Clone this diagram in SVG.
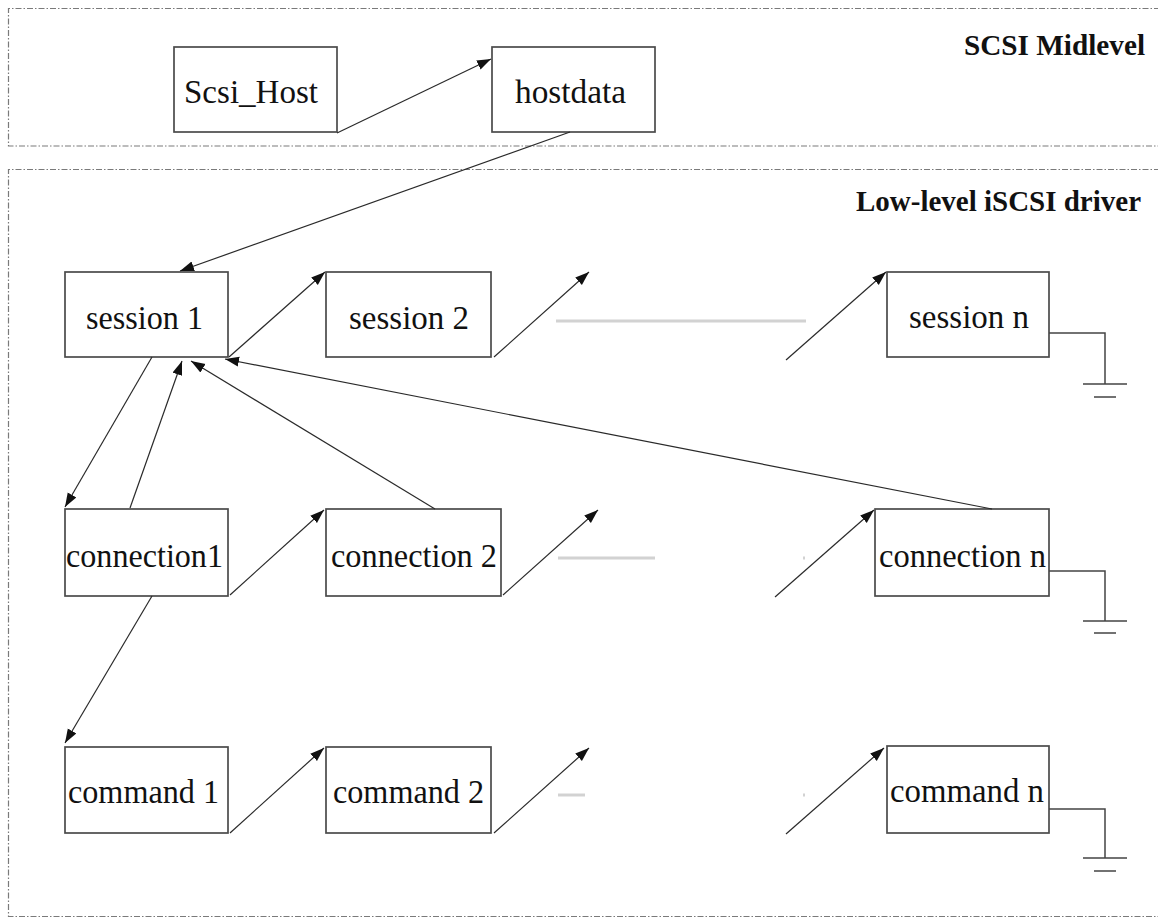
<svg xmlns="http://www.w3.org/2000/svg" width="1158" height="918" viewBox="0 0 1158 918">
  <style>
    .layer { fill: none; stroke: #7a7a7a; stroke-width: 1.2; stroke-dasharray: 6 2 1.5 2; }
    .box { fill: #ffffff; stroke: #4a4a4a; stroke-width: 1.7; }
    .label { font-family: "Liberation Serif", "Times New Roman", serif; font-size: 34px; fill: #111111; }
    .title { font-family: "Liberation Serif", "Times New Roman", serif; font-size: 29.5px; font-weight: bold; fill: #111111; }
    .arrow { fill: none; stroke: #2a2a2a; stroke-width: 1.2; marker-end: url(#head); }
    .gnd { fill: none; stroke: #444444; stroke-width: 1.5; }
    .gap { fill: none; stroke: #d2d2d2; stroke-width: 3; }
  </style>
  <defs>
    <marker id="head" markerUnits="userSpaceOnUse" markerWidth="15" markerHeight="11" refX="14" refY="5" orient="auto">
      <path d="M0,0 L14,5 L0,10 z" fill="#111111"/>
    </marker>
  </defs>

  <rect width="1158" height="918" fill="#ffffff"/>

  <!-- layer frames -->
  <g id="layers">
    <path class="layer" d="M1160,8.5 H8.5 V146 H1160"/>
    <path class="layer" d="M1160,169.5 H8.5 V916.5 H1160"/>
    <text class="title" x="964" y="55" textLength="181" lengthAdjust="spacingAndGlyphs">SCSI Midlevel</text>
    <text class="title" x="856" y="211" textLength="285" lengthAdjust="spacingAndGlyphs">Low-level iSCSI driver</text>
  </g>

  <!-- nodes -->
  <g id="scsi_host"><rect class="box" x="174" y="47" width="163" height="85"/><text class="label" x="184" y="103" textLength="134" lengthAdjust="spacingAndGlyphs">Scsi_Host</text></g>
  <g id="hostdata"><rect class="box" x="492" y="47" width="163" height="85"/><text class="label" x="515" y="103" textLength="111" lengthAdjust="spacingAndGlyphs">hostdata</text></g>

  <g id="session1"><rect class="box" x="65" y="272" width="163" height="85"/><text class="label" x="86" y="329" textLength="117" lengthAdjust="spacingAndGlyphs">session 1</text></g>
  <g id="session2"><rect class="box" x="326" y="272" width="165" height="85"/><text class="label" x="349" y="329" textLength="120" lengthAdjust="spacingAndGlyphs">session 2</text></g>
  <g id="sessionN"><rect class="box" x="887" y="272" width="162" height="85"/><text class="label" x="909" y="328" textLength="120" lengthAdjust="spacingAndGlyphs">session n</text></g>

  <g id="connection1"><rect class="box" x="65" y="509" width="163" height="87"/><text class="label" x="66" y="567" textLength="157" lengthAdjust="spacingAndGlyphs">connection1</text></g>
  <g id="connection2"><rect class="box" x="326" y="509" width="175" height="87"/><text class="label" x="331" y="567" textLength="166" lengthAdjust="spacingAndGlyphs">connection 2</text></g>
  <g id="connectionN"><rect class="box" x="875" y="509" width="174" height="87"/><text class="label" x="879" y="567" textLength="167" lengthAdjust="spacingAndGlyphs">connection n</text></g>

  <g id="command1"><rect class="box" x="65" y="747" width="163" height="86"/><text class="label" x="68" y="803" textLength="151" lengthAdjust="spacingAndGlyphs">command 1</text></g>
  <g id="command2"><rect class="box" x="326" y="747" width="165" height="86"/><text class="label" x="333" y="803" textLength="151" lengthAdjust="spacingAndGlyphs">command 2</text></g>
  <g id="commandN"><rect class="box" x="887" y="746" width="162" height="87"/><text class="label" x="890" y="802" textLength="154" lengthAdjust="spacingAndGlyphs">command n</text></g>

  <!-- connectors -->
  <g id="connectors">
    <line class="arrow" x1="337" y1="133" x2="491" y2="59"/>
    <line class="arrow" x1="570" y1="132" x2="180" y2="271"/>

    <line class="arrow" x1="229" y1="357" x2="325" y2="272"/>
    <line class="arrow" x1="494" y1="357" x2="589" y2="272"/>
    <line class="arrow" x1="786" y1="360" x2="886" y2="272"/>

    <line class="arrow" x1="152" y1="357" x2="65" y2="507"/>
    <line class="arrow" x1="130" y1="508" x2="182" y2="361"/>
    <line class="arrow" x1="435" y1="509" x2="191" y2="361"/>
    <line class="arrow" x1="992" y1="509" x2="225" y2="359"/>

    <line class="arrow" x1="230" y1="595" x2="324" y2="510"/>
    <line class="arrow" x1="503" y1="595" x2="598" y2="510"/>
    <line class="arrow" x1="775" y1="597" x2="874" y2="510"/>

    <line class="arrow" x1="152" y1="596" x2="65" y2="743"/>

    <line class="arrow" x1="230" y1="833" x2="324" y2="748"/>
    <line class="arrow" x1="494" y1="833" x2="589" y2="748"/>
    <line class="arrow" x1="786" y1="834" x2="884" y2="748"/>

    <!-- elided chain segments -->
    <line class="gap" x1="556" y1="321" x2="806" y2="321"/>
    <line class="gap" x1="558" y1="558" x2="655" y2="558"/>
    <line class="gap" x1="803" y1="558" x2="805" y2="558"/>
    <line class="gap" x1="558" y1="795" x2="585" y2="795"/>
    <line class="gap" x1="803" y1="795" x2="805" y2="795"/>

    <!-- list terminators -->
    <path class="gnd" d="M1049,333 H1105 V384 M1083,384 H1127 M1094,397 H1116"/>
    <path class="gnd" d="M1049,571 H1105 V621 M1083,621 H1127 M1094,633 H1116"/>
    <path class="gnd" d="M1049,809 H1105 V858 M1083,858 H1127 M1094,871 H1116"/>
  </g>
</svg>
